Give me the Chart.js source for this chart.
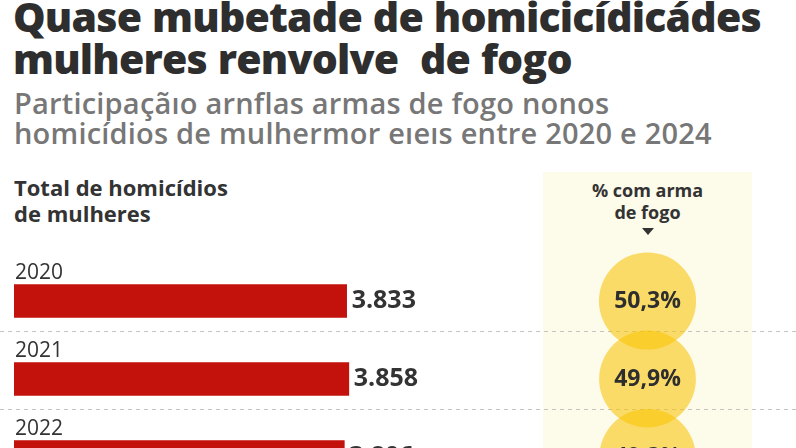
<!DOCTYPE html>
<html lang="pt-BR">
<head>
<meta charset="utf-8">
<script src="https://cdn.jsdelivr.net/npm/chart.js@4"></script>
<style>
    html, body { margin: 0; padding: 0; }
    body { width: 796px; height: 448px; overflow: hidden; position: relative; background: #fff; font-family: "Open Sans", Lato, sans-serif; }
    #title { position: absolute; left: 13px; top: -5px; font-size: 41px; line-height: 42px; font-weight: 800; color: #2e2e2e; letter-spacing: -0.8px; word-spacing: 1px; white-space: pre; }
    #subtitle { position: absolute; left: 14px; top: 88px; font-size: 29px; line-height: 30px; font-weight: 600; color: #777; letter-spacing: 0.2px; white-space: pre; }
    #leftHead { position: absolute; left: 14px; top: 174px; font-size: 22px; line-height: 26px; font-weight: 700; color: #333; }
    #panel { position: absolute; left: 543px; top: 172px; width: 209px; height: 300px; background: #fdfbea; }
    #panelHead { position: absolute; left: 543px; top: 179px; width: 209px; text-align: center; font-size: 18px; line-height: 22px; font-weight: 700; color: #333; }
    #arrow { position: absolute; left: 642px; top: 228px; width: 0; height: 0; border-left: 6px solid transparent; border-right: 6px solid transparent; border-top: 7px solid #333; }
    #barWrap { position: absolute; left: 0; top: 240px; width: 796px; height: 256px; }
    #bubbleWrap { position: absolute; left: 543px; top: 202px; width: 209px; height: 354px; }
</style>
</head>
<body>
<div id="title">Quase mubetade de homicicídicádes
mulheres renvolve  de fogo</div>
<div id="subtitle">Participaçãıo arnflas armas de fogo nonos
homicídios de mulhermor eıeıs entre 2020 e 2024</div>
<div id="leftHead">Total de homicídios<br>de mulheres</div>
<div id="panel"></div>
<div id="panelHead">% com arma<br>de fogo</div>
<div id="arrow"></div>
<div id="barWrap"><canvas id="bars"></canvas></div>
<div id="bubbleWrap"><canvas id="bubbles"></canvas></div>
<script>
const years = ['2020', '2021', '2022'];
const totals = [3833, 3858, 3806];
const shareWithGun = [50.3, 49.9, 49.3];

const fmtThousands = n => String(n).replace(/\B(?=(\d{3})+(?!\d))/g, '.');
const fmtPct = v => v.toFixed(1).replace('.', ',') + '%';
const FONT = '"Open Sans", Lato, sans-serif';

// dashed lines between the rows, a bit above the band edge
const separators = {
    id: 'separators',
    beforeDatasetsDraw(chart) {
        const ctx = chart.ctx;
        const y = chart.scales.y;
        const band = y.getPixelForValue(1) - y.getPixelForValue(0);
        ctx.save();
        ctx.strokeStyle = '#c4c4c4';
        ctx.lineWidth = 1;
        ctx.setLineDash([4, 4]);
        years.forEach((yr, i) => {
            const py = Math.round(y.getPixelForValue(i) + band / 2 - 9) + 0.5;
            ctx.beginPath();
            ctx.moveTo(0, py);
            ctx.lineTo(chart.width, py);
            ctx.stroke();
        });
        ctx.restore();
    }
};

const barLabels = {
    id: 'barLabels',
    afterDatasetsDraw(chart) {
        const ctx = chart.ctx;
        const meta = chart.getDatasetMeta(0);
        ctx.save();
        meta.data.forEach((bar, i) => {
            const top = bar.y - bar.height / 2;
            ctx.fillStyle = '#333';
            ctx.textAlign = 'left';
            ctx.textBaseline = 'alphabetic';
            ctx.font = '21px ' + FONT;
            ctx.fillText(years[i], chart.chartArea.left + 1, top - 6);
            ctx.textBaseline = 'middle';
            ctx.font = 'bold 25px ' + FONT;
            ctx.fillText(fmtThousands(totals[i]), bar.x + 5, bar.y);
        });
        ctx.restore();
    }
};

const bubbleLabels = {
    id: 'bubbleLabels',
    afterDatasetsDraw(chart) {
        const ctx = chart.ctx;
        const meta = chart.getDatasetMeta(0);
        ctx.save();
        ctx.fillStyle = '#2e2e2e';
        ctx.textAlign = 'center';
        ctx.textBaseline = 'middle';
        ctx.font = 'bold 23px ' + FONT;
        meta.data.forEach((pt, i) => {
            ctx.fillText(fmtPct(shareWithGun[i]), pt.x, pt.y);
        });
        ctx.restore();
    }
};

new Chart(document.getElementById('bars'), {
    type: 'bar',
    data: {
        labels: years,
        datasets: [{
            data: totals,
            backgroundColor: '#c2120b',
            barThickness: 33
        }]
    },
    options: {
        indexAxis: 'y',
        responsive: true,
        maintainAspectRatio: false,
        animation: false,
        layout: { padding: { left: 14, right: 296, top: 22, bottom: 0 } },
        plugins: { legend: { display: false }, tooltip: { enabled: false } },
        scales: {
            x: { display: false, min: 0, max: 5600 },
            y: { display: false, offset: true }
        }
    },
    plugins: [separators, barLabels]
});

// padding bigger than the largest radius so the row bands match the bar chart
new Chart(document.getElementById('bubbles'), {
    type: 'bubble',
    data: {
        datasets: [{
            data: shareWithGun.map((v, i) => ({ x: 0, y: years[i], r: Math.sqrt(v) * 6.85 })),
            backgroundColor: 'rgba(247, 195, 0, 0.56)',
            borderWidth: 0,
            clip: false
        }]
    },
    options: {
        responsive: true,
        maintainAspectRatio: false,
        animation: false,
        layout: { padding: 60 },
        plugins: { legend: { display: false }, tooltip: { enabled: false } },
        scales: {
            x: { display: false, type: 'linear', min: -1, max: 1 },
            y: { display: false, type: 'category', labels: years, offset: true }
        }
    },
    plugins: [bubbleLabels]
});
</script>
</body>
</html>
